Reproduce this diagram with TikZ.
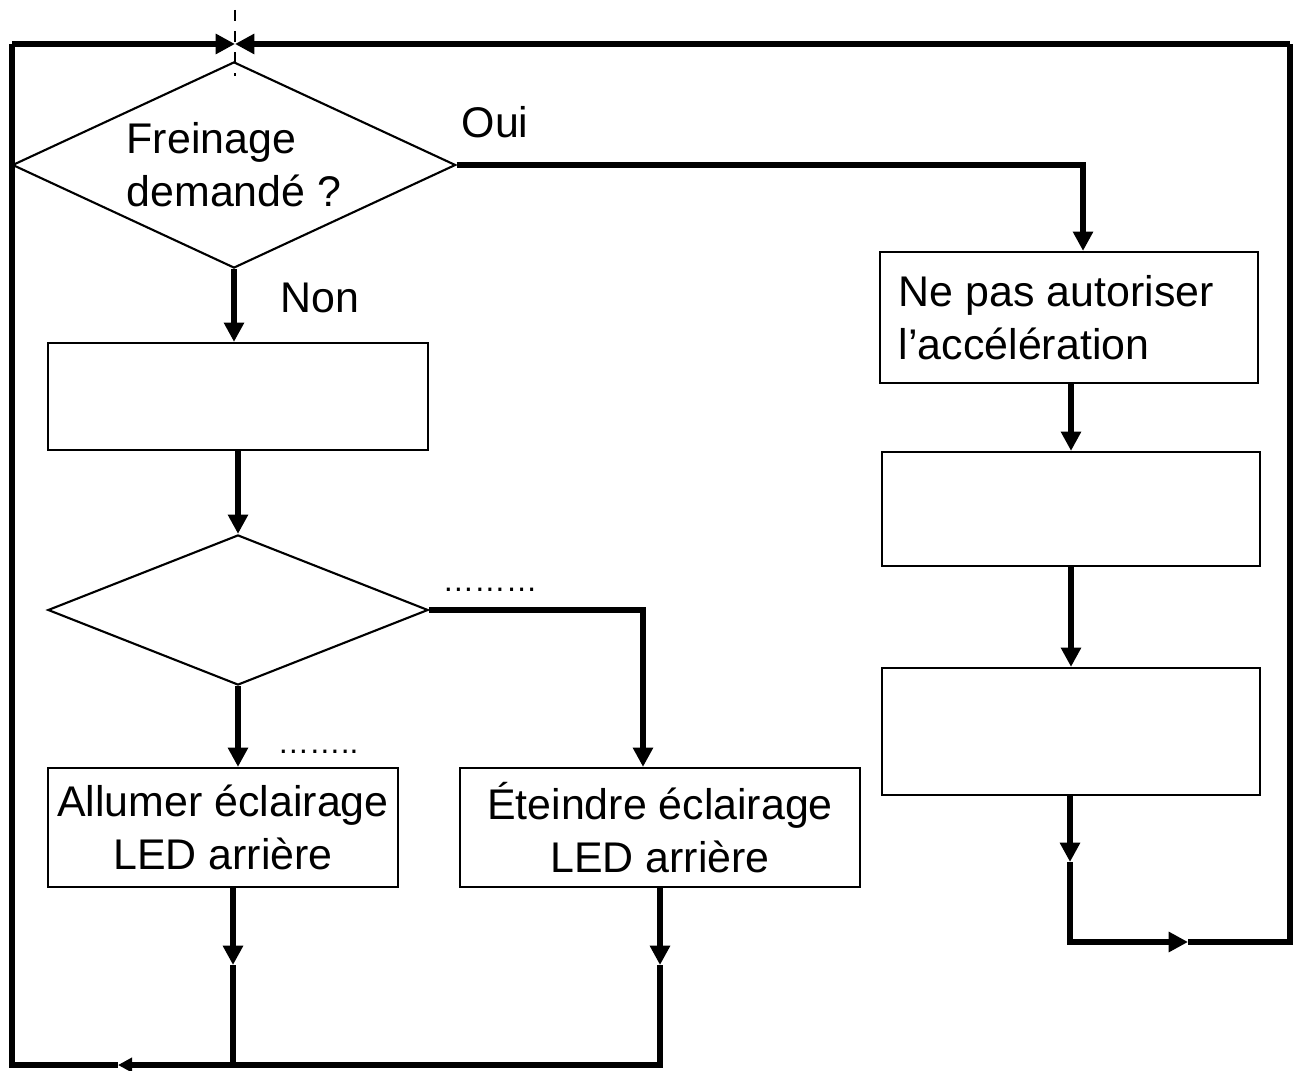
\documentclass[tikz,border=0pt]{standalone}
\usepackage{fontspec}
\setmainfont{Liberation Sans}
\usetikzlibrary{shapes.geometric, arrows.meta, positioning}

\begin{document}
\begin{tikzpicture}[
  x=0.01cm, y=-0.01cm,
  font=\fontsize{12.2}{15}\selectfont,
  box/.style = {
    rectangle, draw, line width=0.6pt,
    inner sep=0pt, align=center
  },
  decision/.style = {
    diamond, draw, line width=0.6pt,
    inner sep=0pt, aspect=2.15, align=center
  },
  arrow/.style = {-{Triangle[length=5.5pt, width=5.5pt]}, line width=1.5pt},
  link/.style = {line width=1.7pt},
  dots/.style = {font=\fontsize{9}{10}\selectfont, inner sep=0pt}
]
\useasboundingbox (0,0) rectangle (1295,1071);
%--- TEST DE FREINAGE ---
\node[decision, minimum width=4.43cm, minimum height=2.06cm, align=left] (frein) at (234,165)
  {Freinage\\demandé ?};
\node (oui) at (495,122) {Oui};
\node (non) at (320,298) {Non};
%--- BRANCHE NON ---
\node[box, minimum width=3.8cm, minimum height=1.07cm] (vide1) at (238,396.5) {};
\node[decision, minimum width=3.8cm, minimum height=1.5cm] (test2) at (238,610) {};
\node[dots] (pts1) at (490,590) {………};
\node[dots] (pts2) at (318,752) {……..};
\node[box, minimum width=3.5cm, minimum height=1.19cm] (allumer) at (223,827.5)
  {Allumer éclairage\\LED arrière};
\node[box, minimum width=4.0cm, minimum height=1.19cm] (eteindre) at (660,827.5)
  {Éteindre éclairage\\LED arrière};
%--- BRANCHE OUI ---
\node[box, minimum width=3.78cm, minimum height=1.31cm, align=flush left, text width=3.4cm]
  (accel) at (1069,317.5) {Ne pas autoriser\\l’accélération};
\node[box, minimum width=3.78cm, minimum height=1.14cm] (vide2) at (1071,509) {};
\node[box, minimum width=3.78cm, minimum height=1.27cm] (vide3) at (1071,731.5) {};
%--- BOUCLE ---
\coordinate (j)  at (235,44);
\coordinate (m1) at (233,965);
\coordinate (b1) at (233,1065);
\coordinate (m2) at (660,965);
\coordinate (b2) at (660,1065);
\coordinate (bh) at (118,1065);
\coordinate (bl) at (12,1065);
\coordinate (tl) at (12,44);
\coordinate (tr) at (1290,44);
\coordinate (br) at (1290,942);
\coordinate (m3) at (1070,862);
\coordinate (bm) at (1070,942);
\coordinate (bk) at (1188,942);
\draw[dashed, line width=0.6pt] ([yshift=0.34cm]j) -- ([yshift=-0.32cm]j);
%--- SETAS ---
\draw[arrow] (frein.south) -- (frein.south |- vide1.north);
\draw[arrow] (frein.east) -| ([xshift=0.14cm]accel.north);
\draw[arrow] (vide1.south) -- (test2.north);
\draw[arrow] (test2.east) -| ([xshift=-0.17cm]eteindre.north);
\draw[arrow] (test2.south) -- (test2.south |- allumer.north);
\draw[arrow] (allumer.south -| m1) -- (m1);
\draw[link]  (m1) -- (b1);
\draw[arrow] (eteindre.south) -- (m2);
\draw[link, -{Triangle[length=4pt, width=4pt]}] (m2) -- (b2) -- (bh);
\draw[link]  (bh) -- (bl) -- (tl);
\draw[arrow] (tl) -- (j);
\draw[arrow] (accel.south -| vide2.north) -- (vide2.north);
\draw[arrow] (vide2.south) -- (vide3.north);
\draw[arrow] (vide3.south -| m3) -- (m3);
\draw[arrow] (m3) -- (bm) -- (bk);
\draw[link]  (bk) -- (br) -- (tr);
\draw[arrow] (tr) -- (j);
\end{tikzpicture}
\end{document}
